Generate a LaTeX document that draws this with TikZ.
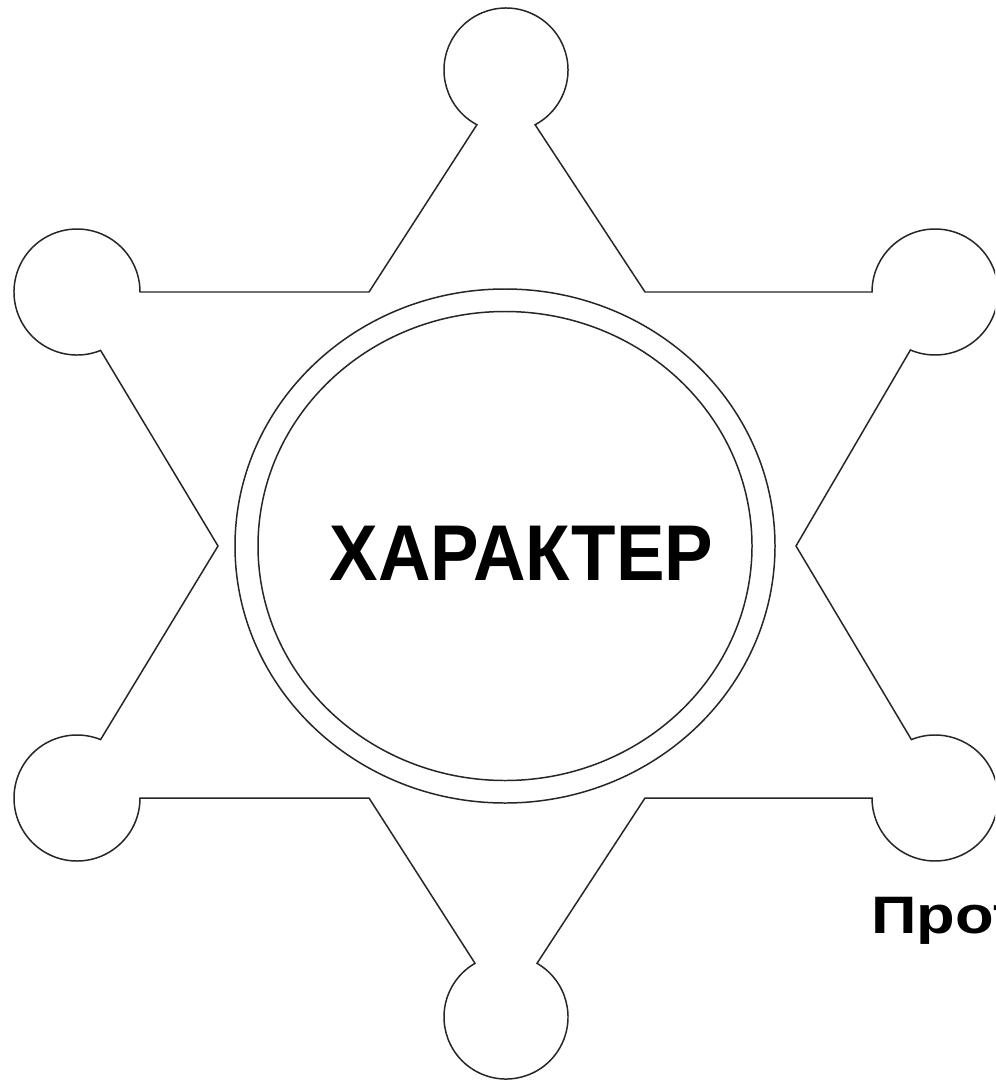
\documentclass[tikz,border=0pt]{standalone}
\usepackage{fontspec}
\setmainfont{Liberation Sans}
\usetikzlibrary{shapes.geometric}
\begin{document}
\begin{tikzpicture}[x=0.02cm,y=0.02cm,
  badge/.style={draw=black!85,line width=0.85pt,line join=miter},
  ring/.style={draw=black!85,line width=0.85pt},
  title/.style={font=\bfseries\fontsize{45}{50}\selectfont,inner sep=0pt,xscale=0.92},
  cut/.style={font=\bfseries\fontsize{30}{34}\selectfont,inner sep=0pt,xscale=1.2}]
\useasboundingbox (0,0) rectangle (995,-1081);
\clip (0,0) rectangle (995,-1081);
\fill[white] (0,0) rectangle (995,-1081);
% circle centres of the six points
\coordinate (T)  at (506,-70);
\coordinate (B)  at (506,-1017);
\coordinate (LT) at (77,-292);
\coordinate (LB) at (77,-798);
\coordinate (RT) at (935,-292);
\coordinate (RB) at (935,-798);
% inner vertices
\coordinate (ul) at (369,-292);
\coordinate (ur) at (645,-292);
\coordinate (vr) at (796,-546);
\coordinate (dr) at (645,-798);
\coordinate (dl) at (369,-798);
\coordinate (vl) at (218,-546);
% star outline
\draw[badge] ([shift={(-118:62)}]T) arc[start angle=242,end angle=-62,radius=62]
  -- (ur) -- ([shift={(180:63)}]RT) arc[start angle=180,end angle=-113,radius=63]
  -- (vr) -- ([shift={(112:63)}]RB) arc[start angle=112,end angle=-180,radius=63]
  -- (dr) -- ([shift={(60:62)}]B) arc[start angle=60,end angle=-240,radius=62]
  -- (dl) -- ([shift={(0:63)}]LB) arc[start angle=0,end angle=-292,radius=63]
  -- (vl) -- ([shift={(-68:63)}]LT) arc[start angle=-68,end angle=-360,radius=63]
  -- (ul) -- cycle;
% double ring
\coordinate (E) at (505,-546);
\draw[ring] (E) ellipse[x radius=270,y radius=257];
\draw[ring] (E) ellipse[x radius=247,y radius=234.5];
% texts
\node[title,anchor=base] (word) at (521.5,-580) {ХАРАКТЕР};
\node[cut,anchor=base west] (prot) at (871,-933) {Прот};
\end{tikzpicture}
\end{document}
